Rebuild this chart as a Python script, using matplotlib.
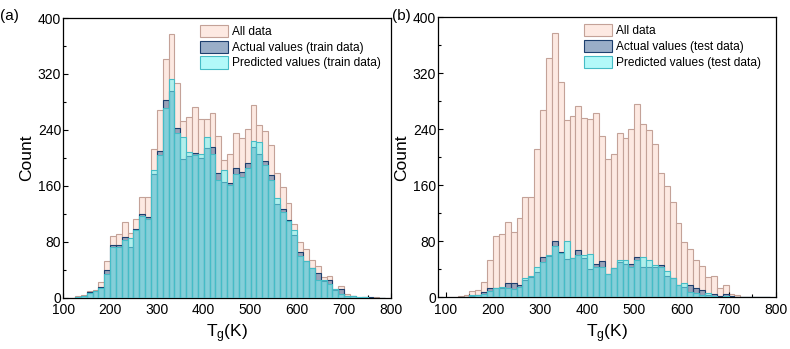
import matplotlib
matplotlib.use('Agg')
import matplotlib.pyplot as plt
from matplotlib.ticker import MultipleLocator
from matplotlib.transforms import ScaledTranslation
import numpy as np

plt.rcParams['font.family'] = ['Liberation Sans', 'DejaVu Sans']
plt.rcParams['mathtext.default'] = 'regular'

# histogram bins (K), left edges start at bin_start, step bin_width
bin_start = 125.0
bin_width = 12.5

# all data counts (same in both panels)
all_counts = [2, 4, 9, 11, 22, 53, 88, 91, 108, 93,
              113, 144, 144, 212, 268, 342, 377, 307, 253, 259,
              273, 256, 255, 264, 231, 197, 205, 235, 228, 241,
              276, 247, 239, 219, 178, 159, 136, 106, 79, 69,
              54, 45, 29, 31, 13, 17, 5, 3, 1, 1,
              0, 1, 0]

train_actual = [1, 3, 8, 9, 15, 40, 75, 75, 87, 73,
                98, 120, 116, 177, 210, 283, 296, 242, 199, 203,
                207, 200, 214, 216, 179, 165, 164, 185, 180, 192,
                216, 205, 195, 175, 134, 127, 111, 90, 65, 52,
                42, 35, 24, 26, 11, 13, 3, 2, 0, 1,
                1, 0, 0]

train_pred = [1, 2, 7, 9, 14, 34, 73, 72, 83, 85,
              97, 117, 113, 183, 204, 272, 313, 236, 230, 209,
              204, 205, 230, 205, 168, 183, 161, 177, 173, 186,
              224, 222, 190, 168, 142, 122, 109, 97, 59, 52,
              43, 26, 25, 20, 12, 6, 2, 3, 1, 1,
              0, 0, 0]

test_actual = [1, 1, 2, 3, 8, 13, 14, 14, 20, 20,
               17, 25, 29, 36, 58, 59, 81, 65, 55, 56,
               67, 56, 41, 48, 52, 33, 42, 50, 48, 48,
               58, 43, 44, 44, 46, 30, 27, 17, 15, 18,
               13, 10, 4, 5, 2, 5, 2, 0, 1, 0,
               0, 1, 0]

test_pred = [0, 1, 3, 4, 5, 9, 14, 15, 14, 12,
             15, 27, 31, 44, 50, 61, 73, 63, 80, 56,
             61, 61, 62, 44, 44, 33, 42, 53, 53, 44,
             53, 58, 53, 46, 44, 38, 27, 18, 21, 8,
             6, 3, 6, 2, 1, 2, 1, 0, 0, 0,
             0, 0, 0]

edges = bin_start + bin_width * np.arange(len(all_counts))

fig = plt.figure(figsize=(7.9, 3.49), dpi=100)
ax_a = fig.add_axes([0.0801, 0.147, 0.4148, 0.8014])
ax_b = fig.add_axes([0.5548, 0.148, 0.4271, 0.8023])


def draw_panel(ax, actual, pred, tag, xmin, leg_x):
    ax.bar(edges, all_counts, width=bin_width, align='edge',
           facecolor='#fde9e2', edgecolor='#c4a298', linewidth=0.8,
           label='All data', zorder=1)
    ax.bar(edges, actual, width=bin_width, align='edge',
           facecolor=(0.12, 0.30, 0.52, 0.45), edgecolor='#1d3f6e', linewidth=0.8,
           label=f'Actual values ({tag} data)', zorder=2)
    ax.bar(edges, pred, width=bin_width, align='edge',
           facecolor=(0.45, 0.96, 0.96, 0.55), edgecolor='#45bcc6', linewidth=0.8,
           label=f'Predicted values ({tag} data)', zorder=3)

    ax.set_xlim(xmin, 800)
    ax.set_ylim(0, 400)
    ax.xaxis.set_major_locator(MultipleLocator(100))
    ax.xaxis.set_minor_locator(MultipleLocator(50))
    ax.yaxis.set_major_locator(MultipleLocator(80))
    ax.yaxis.set_minor_locator(MultipleLocator(40))
    ax.tick_params(which='both', direction='in', labelsize=10, width=0.8)
    ax.tick_params(which='major', length=3.5, pad=1.5)
    ax.tick_params(axis='x', which='major', pad=4)
    ax.tick_params(which='minor', length=2)
    for s in ax.spines.values():
        s.set_linewidth(0.9)
    ax.set_xlabel('T$_g$(K)', fontsize=12.5, labelpad=4)
    ax.set_ylabel('Count', fontsize=12.5, labelpad=3)

    ax.legend(loc='upper left', bbox_to_anchor=(leg_x, 0.995), frameon=False,
              fontsize=8.6, handlelength=2.35, handleheight=1.2,
              labelspacing=0.22, handletextpad=0.35, borderpad=0.25,
              borderaxespad=0.2)


draw_panel(ax_a, train_actual, train_pred, 'train', 100, 0.40)
draw_panel(ax_b, test_actual, test_pred, 'test', 84, 0.415)

fig.text(0.0, 0.975, '(a)', fontsize=11, va='top', ha='left')
fig.text(0.496, 0.975, '(b)', fontsize=11, va='top', ha='left')

# lift the "0" count label a little, as in the original
fig.canvas.draw()
for ax in (ax_a, ax_b):
    zero_lab = ax.yaxis.get_major_ticks()[0].label1
    zero_lab.set_transform(zero_lab.get_transform()
                           + ScaledTranslation(0, 3 / 72, fig.dpi_scale_trans))

fig.savefig('out.png', dpi=100)
